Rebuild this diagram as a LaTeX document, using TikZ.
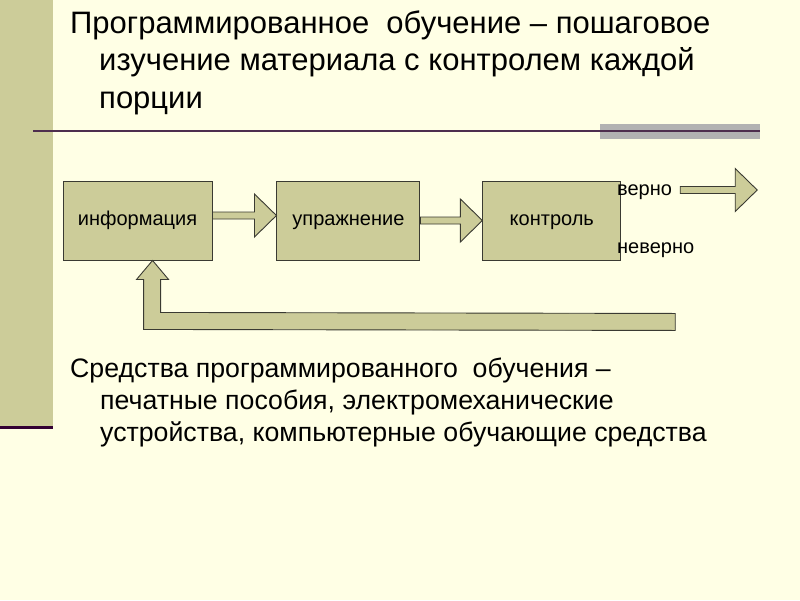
\documentclass[tikz,border=0pt]{standalone}
\usepackage{fontspec}
\setmainfont{Liberation Sans}
\usepackage{xcolor}
\usepackage{tikz}
\usetikzlibrary{positioning,calc}
\definecolor{paper}{HTML}{FFFFE5}
\definecolor{boxfill}{HTML}{CCCC99}
\definecolor{edge}{HTML}{3A3A32}
\definecolor{rulecol}{HTML}{4E2E4E}
\definecolor{bandline}{HTML}{330033}
\definecolor{rulegray}{HTML}{B2B2B2}

% wide block arrow from #1 to #2 (tip at #2)
\newcommand{\stagearrow}[2]{%
  \draw[blockarrow] ($(#1)+(0,-3.5)$) -- ($(#2)+(-22,-3.5)$) -- ($(#2)+(-22,-21.5)$)
    -- (#2) -- ($(#2)+(-22,21.5)$) -- ($(#2)+(-22,3.5)$) -- ($(#1)+(0,3.5)$) -- cycle;}

\tikzset{
  stage/.style={draw=edge, fill=boxfill, line width=0.9pt, minimum height=79pt,
                inner sep=0pt, text height=14.4pt, text depth=4pt,
                font=\fontsize{20}{24}\selectfont},
  blockarrow/.style={draw=edge, fill=boxfill, line width=0.9pt, line join=miter},
  note/.style={anchor=base west, inner sep=0pt, font=\fontsize{20}{24}\selectfont},
  slidetext/.style={anchor=base west, inner sep=0pt, align=left},
}

\begin{document}
\begin{tikzpicture}[x=1pt, y=-1pt]
\useasboundingbox (0,0) rectangle (800,600);
\fill[paper] (0,0) rectangle (800,600);

% left band and rule
\fill[boxfill] (0,0) rectangle (53,427);
\draw[bandline, line width=3pt] (0,427) -- (53,427);
\fill[rulegray] (600,124) rectangle (760,139);
\draw[rulecol, line width=2pt] (33,131) -- (760,131);

% base anchor sits on the last line here
\node[slidetext, font=\fontsize{31}{37.5}\selectfont] (title) at (70,108)
  {Программированное\ \ обучение – пошаговое\\
   \hspace*{29pt}изучение материала с контролем каждой\\
   \hspace*{29pt}порции};

% scheme
\node[stage, minimum width=149pt] (info) at (137.5,220.5) {информация};
\node[stage, minimum width=143pt, right=64pt of info] (drill) {упражнение};
\node[stage, minimum width=138pt, right=62pt of drill] (check) {контроль};

\node[note] (ok) at (617,195) {верно};
\node[note] (fail) at (617,253) {неверно};

\stagearrow{[yshift=5pt]info.east}{[yshift=5pt]drill.west}
\stagearrow{drill.east}{check.west}

\coordinate (okfrom) at ($(ok.base east)+(8,-5)$);
\coordinate (okto) at ($(okfrom)+(77,0)$);
\stagearrow{okfrom}{okto}

% way back to information
\coordinate (backtip) at ($(info.south west)+(90,0)$);
\coordinate (backend) at ($(check.south east)+(54,53)$);
\draw[blockarrow] (backtip) -- ++(16,19) -- ++(-8,0) -- ++(0,33) -- (backend)
  -- ++(0,17) -- ($(backtip)+(-9,69)$) -- ++(0,-50) -- ++(-7,0) -- cycle;

\node[slidetext, font=\fontsize{26.7}{32}\selectfont] (means) at (70,441)
  {Средства программированного\ \ обучения –\\
   \hspace*{30pt}печатные пособия, электромеханические\\
   \hspace*{30pt}устройства, компьютерные обучающие средства};
\end{tikzpicture}
\end{document}
